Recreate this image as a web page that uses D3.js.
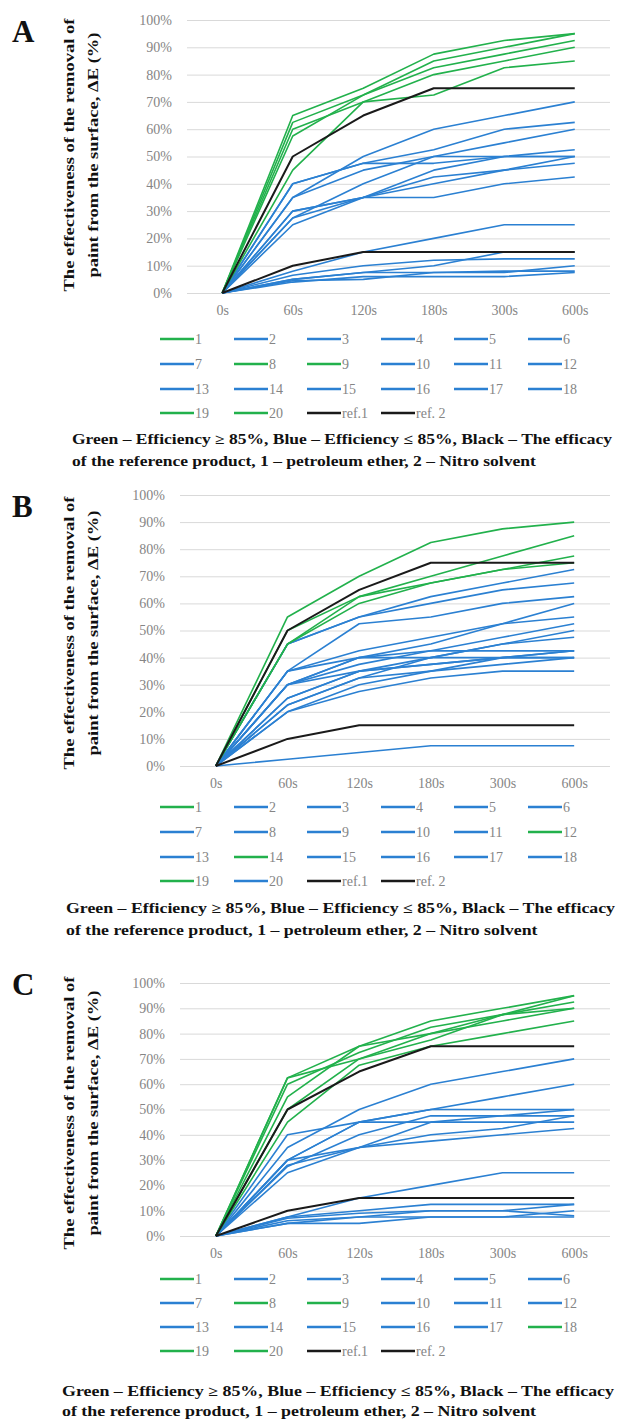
<!DOCTYPE html>
<html><head><meta charset="utf-8">
<script src="https://cdn.jsdelivr.net/npm/d3@7"></script>
<style>html,body{margin:0;padding:0;background:#fff;}svg{display:block;}</style>
</head><body>
<svg id="chart" width="621" height="1420"></svg>
<script>
// ---------- DATA ----------
const times = ["0s","60s","120s","180s","300s","600s"];
const seriesNames = ["1","2","3","4","5","6","7","8","9","10","11","12","13","14","15","16","17","18","19","20","ref.1","ref. 2"];
const yTicks = [0,10,20,30,40,50,60,70,80,90,100];
const refNames = ["ref.1","ref. 2"];
const greenA = ["1","8","9","19","20"];
const greenB = ["1","12","14","19"];
const greenC = ["1","8","9","18","19","20"];

const valuesA = [
  [0,65,75,87.5,92.5,95],   // 1
  [0,35,50,60,65,70],       // 2
  [0,40,47.5,52.5,60,62.5], // 3
  [0,27.5,40,50,55,60],     // 4
  [0,35,45,50,50,52.5],     // 5
  [0,40,47.5,47.5,50,50],   // 6
  [0,30,35,45,50,50],       // 7
  [0,62.5,72.5,85,90,95],   // 8
  [0,57.5,72.5,82.5,87.5,92.5], // 9
  [0,25,35,42.5,45,47.5],   // 10
  [0,27.5,35,35,40,42.5],   // 11
  [0,30,35,40,45,50],       // 12
  [0,8,15,20,25,25],        // 13
  [0,5,7.5,10,15,15],       // 14
  [0,6.5,10,12,12.5,12.5],  // 15
  [0,5,7.5,7.5,7.5,10],     // 16
  [0,4,6,6,6,7.5],          // 17
  [0,4.5,5,7.5,8,8],        // 18
  [0,45,70,80,85,90],       // 19
  [0,60,70,72.5,82.5,85],   // 20
  [0,50,65,75,75,75],       // ref.1
  [0,10,15,15,15,15]        // ref. 2
];
const valuesB = [
  [0,55,70,82.5,87.5,90],   // 1
  [0,45,55,62.5,67.5,72.5], // 2
  [0,45,55,60,65,67.5],     // 3
  [0,35,52.5,55,60,62.5],   // 4
  [0,30,40,45,52.5,60],     // 5
  [0,35,42.5,47.5,52.5,55], // 6
  [0,30,37.5,42.5,47.5,52.5], // 7
  [0,25,35,40,45,50],       // 8
  [0,22.5,32.5,40,45,47.5], // 9
  [0,35,40,42.5,42.5,42.5], // 10
  [0,30,40,40,40,42.5],     // 11
  [0,45,62.5,70,77.5,85],   // 12
  [0,20,30,35,40,40],       // 13
  [0,45,60,67.5,72.5,77.5], // 14
  [0,25,35,37.5,40,42.5],   // 15
  [0,20,27.5,32.5,35,35],   // 16
  [0,30,35,37.5,40,40],     // 17
  [0,22.5,32.5,35,37.5,40], // 18
  [0,50,62.5,67.5,72.5,75], // 19
  [0,2.5,5,7.5,7.5,7.5],    // 20
  [0,50,65,75,75,75],       // ref.1
  [0,10,15,15,15,15]        // ref. 2
];
const valuesC = [
  [0,62.5,75,85,90,95],     // 1
  [0,35,50,60,65,70],       // 2
  [0,30,45,50,55,60],       // 3
  [0,40,45,50,50,50],       // 4
  [0,30,35,45,47.5,50],     // 5
  [0,27.5,40,47.5,47.5,47.5], // 6
  [0,25,35,40,42.5,47.5],   // 7
  [0,60,72.5,82.5,87.5,92.5], // 8
  [0,62.5,70,80,87.5,90],   // 9
  [0,28,35,37.5,40,42.5],   // 10
  [0,30,45,45,45,45],       // 11
  [0,7.5,15,20,25,25],      // 12
  [0,7.5,10,12.5,12.5,12.5],// 13
  [0,5,7.5,10,10,12.5],     // 14
  [0,6,7.5,7.5,7.5,10],     // 15
  [0,5,5,7.5,7.5,7.5],      // 16
  [0,7,9,10,10,8],          // 17
  [0,55,75,80,85,90],       // 18
  [0,50,70,77.5,87.5,95],   // 19
  [0,45,67.5,75,80,85],     // 20
  [0,50,65,75,75,75],       // ref.1
  [0,10,15,15,15,15]        // ref. 2
];

const yTitle1 = "The effectiveness of the removal of";
const yTitle2 = "paint from the surface, \u0394E  (%)";
const caption1 = "Green \u2013 Efficiency \u2265 85%, Blue \u2013 Efficiency \u2264 85%, Black \u2013 The efficacy";
const caption2 = "of the reference product, 1 \u2013 petroleum ether, 2 \u2013 Nitro solvent";

// ---------- STYLE / LAYOUT ----------
const GREEN = "#22b14c", BLUE = "#2b80d2", BLACK = "#1a1a1a";
const serif = "'Liberation Serif','Times New Roman',serif";

const panels = [
  {letter:"A", values:valuesA, green:greenA, top:20, bottom:293, left:187, right:610, tickX:172,
   letterY:42, titleCY:155, xLabY:313, legendY:[339,364,389,413], capX:72, capW:540, capY:[439,461]},
  {letter:"B", values:valuesB, green:greenB, top:495, bottom:766, left:180, right:610, tickX:165,
   letterY:517, titleCY:633, xLabY:786, legendY:[807,832,857,881], capX:66, capW:549, capY:[908,930]},
  {letter:"C", values:valuesC, green:greenC, top:983, bottom:1236, left:180, right:610, tickX:165,
   letterY:995, titleCY:1113, xLabY:1256, legendY:[1279,1303,1327,1351], capX:62, capW:552, capY:[1391,1411]}
];
const legendCols = [160,234,307,381,454,528];

const svg = d3.select("#chart");

function colorFor(name, greens){
  if (refNames.includes(name)) return BLACK;
  return greens.includes(name) ? GREEN : BLUE;
}

// stretch a pair of texts horizontally so the first matches a target length
function stretchPair(t1, t2, target){
  const l1 = t1.node().getComputedTextLength();
  const l2 = t2.node().getComputedTextLength();
  const k = target / l1;
  t1.attr("textLength", target).attr("lengthAdjust","spacingAndGlyphs");
  t2.attr("textLength", l2 * k).attr("lengthAdjust","spacingAndGlyphs");
}

panels.forEach(p => {
  const g = svg.append("g");
  const x = d3.scalePoint().domain(times).range([p.left, p.right]).padding(0.5);
  const y = d3.scaleLinear().domain([0,100]).range([p.bottom, p.top]);

  // gridlines
  const grid = g.append("g").attr("transform", `translate(${p.left},0)`)
    .call(d3.axisLeft(y).tickValues(yTicks).tickSize(-(p.right - p.left)).tickFormat(""));
  grid.select(".domain").remove();
  grid.selectAll("line").attr("stroke","#d9d9d9").attr("stroke-width",1);

  // y tick labels
  const ya = g.append("g").attr("transform", `translate(${p.tickX},0)`)
    .call(d3.axisLeft(y).tickValues(yTicks).tickSize(0).tickPadding(0).tickFormat(d => d + "%"));
  ya.select(".domain").remove();
  ya.selectAll("text").attr("font-family", serif).attr("font-size", 14).attr("fill","#858585");

  // x tick labels
  const xa = g.append("g").attr("transform", `translate(0,${p.xLabY - 8})`)
    .call(d3.axisBottom(x).tickSize(0).tickPadding(0));
  xa.select(".domain").remove();
  xa.selectAll("text").attr("font-family", serif).attr("font-size", 14).attr("fill","#858585").attr("dy","0.71em");

  // lines
  const line = d3.line().x((d,i) => x(times[i])).y(d => y(d));
  seriesNames.forEach((name, si) => {
    g.append("path")
      .datum(p.values[si])
      .attr("d", line)
      .attr("fill","none")
      .attr("stroke", colorFor(name, p.green))
      .attr("stroke-width", refNames.includes(name) ? 2 : 1.6)
      .attr("stroke-linejoin","round");
  });

  // legend
  seriesNames.forEach((name, si) => {
    const col = si % 6, row = Math.floor(si / 6);
    const lx = legendCols[col], ly = p.legendY[row];
    g.append("line").attr("x1", lx).attr("x2", lx + 34).attr("y1", ly).attr("y2", ly)
      .attr("stroke", colorFor(name, p.green)).attr("stroke-width", 2.5);
    g.append("text").attr("x", lx + 35).attr("y", ly).attr("dy","0.35em")
      .attr("font-family", serif).attr("font-size", 14).attr("fill","#858585").text(name);
  });

  // panel letter
  g.append("text").attr("x", 12).attr("y", p.letterY)
    .attr("font-family", serif).attr("font-weight","bold").attr("font-size", 31).attr("fill","#111")
    .text(p.letter);

  // y-axis title (two lines rotated)
  const t1 = g.append("text").attr("transform", `translate(74,${p.titleCY}) rotate(-90)`)
    .attr("text-anchor","middle").attr("font-family", serif).attr("font-weight","bold")
    .attr("font-size", 15.5).attr("fill","#111").text(yTitle1);
  const t2 = g.append("text").attr("transform", `translate(98,${p.titleCY}) rotate(-90)`)
    .attr("text-anchor","middle").attr("font-family", serif).attr("font-weight","bold")
    .attr("font-size", 15.5).attr("fill","#111").text(yTitle2);
  stretchPair(t1, t2, 273);

  // caption
  const c1 = g.append("text").attr("x", p.capX).attr("y", p.capY[0]).attr("dy","0.35em")
    .attr("font-family", serif).attr("font-weight","bold").attr("font-size", 14).attr("fill","#111")
    .text(caption1);
  const c2 = g.append("text").attr("x", p.capX).attr("y", p.capY[1]).attr("dy","0.35em")
    .attr("font-family", serif).attr("font-weight","bold").attr("font-size", 14).attr("fill","#111")
    .text(caption2);
  stretchPair(c1, c2, p.capW);
});
</script>
</body></html>
